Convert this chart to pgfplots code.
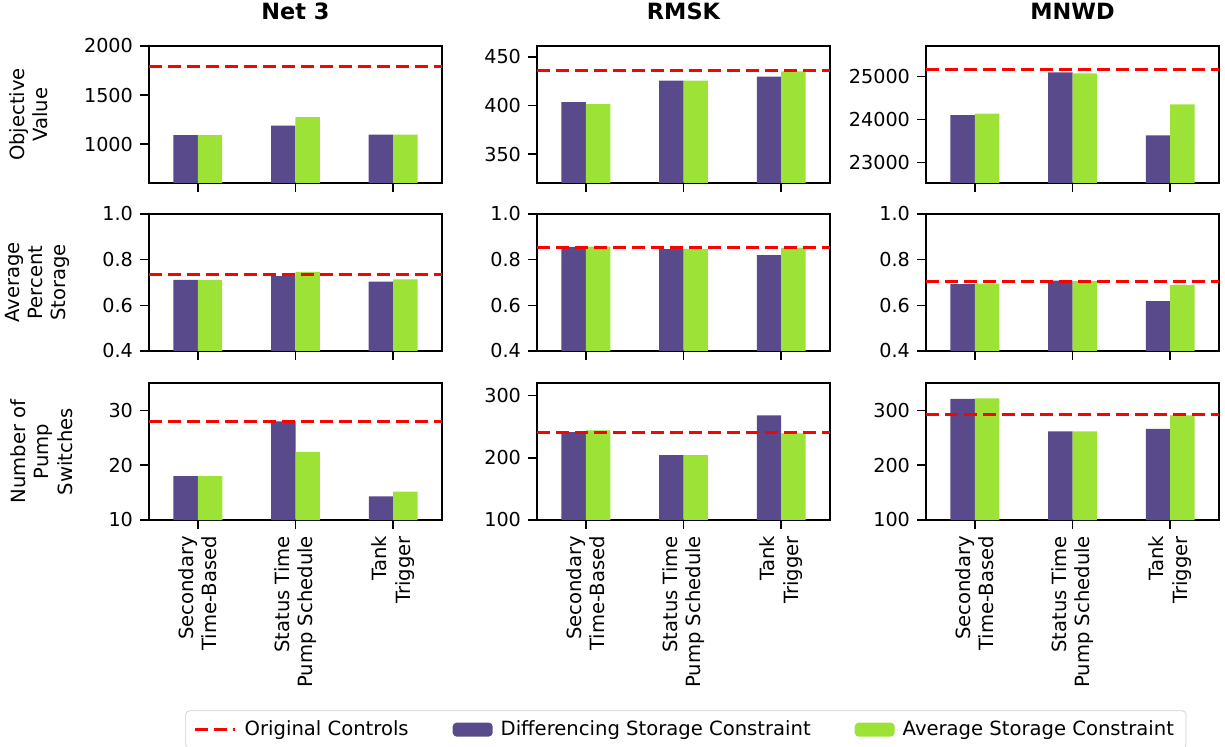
\documentclass[border=0pt]{standalone}
\usepackage{fontspec}
\setmainfont{DejaVu Sans}
\usepackage{pgfplots}
\usepackage{pgfplotstable}
\pgfplotsset{compat=1.18}

\definecolor{dpurple}{HTML}{594A8C}
\definecolor{agreen}{HTML}{9DE236}
\definecolor{origred}{HTML}{FF0000}

% x: 0 = Secondary Time-Based, 1 = Status Time Pump Schedule, 2 = Tank Trigger
% d = differencing storage constraint, a = average storage constraint
\pgfplotstableread{
x n3d  n3a  rmd   rma   mnd   mna
0 1092 1092 403.7 401.6 24100 24133
1 1191 1277 425.7 425.7 25093 25070
2 1099 1097 429.8 435.2 23628 24349
}\objtab

\pgfplotstableread{
x n3d   n3a   rmd   rma   mnd   mna
0 0.711 0.711 0.856 0.857 0.693 0.695
1 0.728 0.746 0.846 0.847 0.708 0.706
2 0.704 0.714 0.820 0.852 0.618 0.690
}\stortab

\pgfplotstableread{
x n3d  n3a  rmd rma mnd   mna
0 18   18   241 244 321   322
1 28   22.4 204 204 261.5 261.5
2 14.3 15.2 268 239 266.5 291
}\swtab

\pgfplotsset{
  panel/.style={
    scale only axis, width=146.5pt, height=68.5pt,
    anchor=north west,
    xmin=-0.5, xmax=2.5, xtick={0,1,2}, xticklabels={},
    scaled y ticks=false,
    tick align=outside, xtick pos=left, ytick pos=left,
    major tick length=4.5pt,
    every tick/.style={black, line width=0.8pt},
    axis line style={line width=0.8pt},
    tick label style={font=\fontsize{9.6}{11.5}\selectfont},
    /pgf/number format/assume math mode=true,
    /pgf/number format/1000 sep={},
    ylabel style={font=\fontsize{9.8}{11.6}\selectfont, align=center,
      anchor=south, inner sep=0pt},
    title style={font=\fontsize{11.2}{13}\selectfont\bfseries,
      anchor=base, at={(0.5,1)}, yshift=7pt},
  },
  bottomrow/.style={
    xticklabels={{Secondary\\Time-Based},{Status Time\\Pump Schedule},{Tank\\Trigger}},
    xticklabel style={rotate=90, anchor=east, align=right,
      font=\fontsize{9.8}{11.6}\selectfont},
  },
  dbar/.style={ybar, bar width=0.25, bar shift=-0.125, fill=dpurple, draw=none},
  abar/.style={ybar, bar width=0.25, bar shift=0.125, fill=agreen, draw=none},
  orig/.style={origred, line width=1.5pt, dash pattern=on 6.3pt off 3.2pt},
}

\begin{document}
\begin{tikzpicture}
\useasboundingbox (0,0) rectangle (612.5pt,-373.5pt);

% ---- Objective value ----
\begin{axis}[panel, at={(74.5pt,-23pt)}, title={Net 3},
  ymin=606, ymax=2000, ytick={1000,1500,2000},
  ylabel={Objective\\Value}, ylabel style={at={(axis description cs:-0.345,0.5)}}]
  \addplot[dbar] table[x=x,y=n3d]{\objtab};
  \addplot[abar] table[x=x,y=n3a]{\objtab};
  \addplot[orig] coordinates {(-0.5,1795) (2.5,1795)};
\end{axis}
\begin{axis}[panel, at={(268.5pt,-23pt)}, title={RMSK},
  ymin=320.5, ymax=461.3, ytick={350,400,450}]
  \addplot[dbar] table[x=x,y=rmd]{\objtab};
  \addplot[abar] table[x=x,y=rma]{\objtab};
  \addplot[orig] coordinates {(-0.5,435.6) (2.5,435.6)};
\end{axis}
\begin{axis}[panel, at={(463pt,-23pt)}, title={MNWD},
  ymin=22519, ymax=25705, ytick={23000,24000,25000}]
  \addplot[dbar] table[x=x,y=mnd]{\objtab};
  \addplot[abar] table[x=x,y=mna]{\objtab};
  \addplot[orig] coordinates {(-0.5,25163) (2.5,25163)};
\end{axis}

% ---- Average percent storage ----
\begin{axis}[panel, at={(74.5pt,-107pt)},
  ymin=0.4, ymax=1.0, ytick={0.4,0.6,0.8,1.0},
  yticklabel style={/pgf/number format/.cd, fixed, fixed zerofill, precision=1},
  ylabel={Average\\Percent\\Storage}, ylabel style={at={(axis description cs:-0.27,0.5)}}]
  \addplot[dbar] table[x=x,y=n3d]{\stortab};
  \addplot[abar] table[x=x,y=n3a]{\stortab};
  \addplot[orig] coordinates {(-0.5,0.736) (2.5,0.736)};
\end{axis}
\begin{axis}[panel, at={(268.5pt,-107pt)},
  ymin=0.4, ymax=1.0, ytick={0.4,0.6,0.8,1.0},
  yticklabel style={/pgf/number format/.cd, fixed, fixed zerofill, precision=1}]
  \addplot[dbar] table[x=x,y=rmd]{\stortab};
  \addplot[abar] table[x=x,y=rma]{\stortab};
  \addplot[orig] coordinates {(-0.5,0.853) (2.5,0.853)};
\end{axis}
\begin{axis}[panel, at={(463pt,-107pt)},
  ymin=0.4, ymax=1.0, ytick={0.4,0.6,0.8,1.0},
  yticklabel style={/pgf/number format/.cd, fixed, fixed zerofill, precision=1}]
  \addplot[dbar] table[x=x,y=mnd]{\stortab};
  \addplot[abar] table[x=x,y=mna]{\stortab};
  \addplot[orig] coordinates {(-0.5,0.703) (2.5,0.703)};
\end{axis}

% ---- Number of pump switches ----
\begin{axis}[panel, bottomrow, at={(74.5pt,-191.5pt)},
  ymin=10, ymax=35, ytick={10,20,30},
  ylabel={Number of\\Pump\\Switches}, ylabel style={at={(axis description cs:-0.26,0.5)}}]
  \addplot[dbar] table[x=x,y=n3d]{\swtab};
  \addplot[abar] table[x=x,y=n3a]{\swtab};
  \addplot[orig] coordinates {(-0.5,28.05) (2.5,28.05)};
\end{axis}
\begin{axis}[panel, bottomrow, at={(268.5pt,-191.5pt)},
  ymin=100, ymax=320, ytick={100,200,300},
  legend columns=3,
  legend style={at={(0.508,-1.53)}, anchor=center,
    draw=black!18, rounded corners=2pt,
    font=\fontsize{9.8}{11.8}\selectfont,
    inner xsep=4pt, inner ysep=3pt,
    /tikz/every even column/.append style={column sep=20pt},
    /tikz/every odd column/.append style={column sep=2pt}},
  legend cell align=left]
  \addplot[orig, legend image code/.code={\draw[origred, line width=1.5pt,
      dash pattern=on 6.3pt off 3.2pt] (0pt,0pt) -- (20pt,0pt);}]
    coordinates {(-0.5,240) (2.5,240)};
  \addlegendentry{Original Controls}
  \addplot[dbar, legend image code/.code={\fill[dpurple] (0pt,-3.5pt) rectangle (20pt,3.5pt);}]
    table[x=x,y=rmd]{\swtab};
  \addlegendentry{Differencing Storage Constraint}
  \addplot[abar, legend image code/.code={\fill[agreen] (0pt,-3.5pt) rectangle (20pt,3.5pt);}]
    table[x=x,y=rma]{\swtab};
  \addlegendentry{Average Storage Constraint}
  \addplot[orig, forget plot] coordinates {(-0.5,240) (2.5,240)};
\end{axis}
\begin{axis}[panel, bottomrow, at={(463pt,-191.5pt)},
  ymin=100, ymax=350, ytick={100,200,300}]
  \addplot[dbar] table[x=x,y=mnd]{\swtab};
  \addplot[abar] table[x=x,y=mna]{\swtab};
  \addplot[orig] coordinates {(-0.5,292) (2.5,292)};
\end{axis}
\end{tikzpicture}
\end{document}
